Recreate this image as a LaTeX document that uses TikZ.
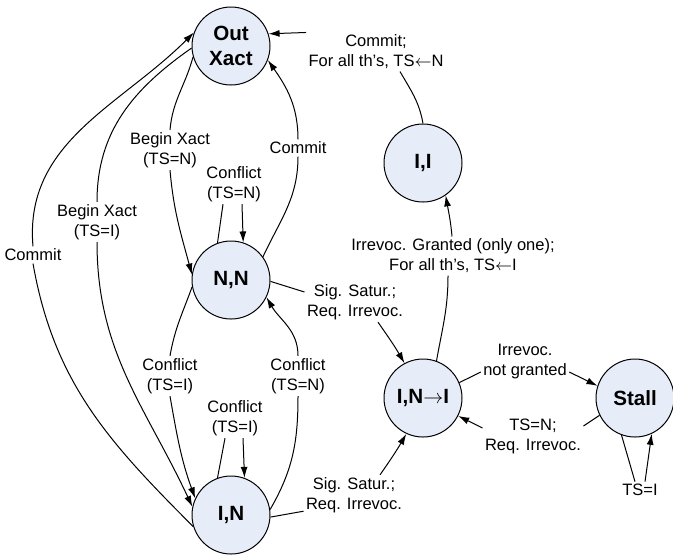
\documentclass[tikz,border=0pt]{standalone}
\usepackage{fontspec}
\setmainfont{Liberation Sans}
\usetikzlibrary{arrows.meta}
\definecolor{statefill}{RGB}{230,236,248}
\begin{document}
\begin{tikzpicture}[x=0.5pt,y=0.5pt,line width=0.5pt,>={Latex[length=5.5pt,width=3.5pt]},
	state/.style={circle,draw,fill=statefill,minimum size=39pt,inner sep=0pt,align=center,font=\fontsize{10.3}{12.5}\selectfont\bfseries},
	lbl/.style={align=center,inner sep=1pt,font=\fontsize{8.25}{10}\selectfont}]
		\useasboundingbox (0,0) rectangle (673,-559);
		\node[state] (OX) at (231,-46) {Out\\Xact};
		\node[state] (NN) at (231,-280) {N,N};
		\node[state] (IN) at (231,-515) {I,N};
		\node[state] (II) at (423,-163) {I,I};
		\node[state] (INI) at (423,-398) {I,N$\rightarrow$I};
		\node[state] (ST) at (635,-398) {Stall};
		\node[lbl] (cCommitII) at (376,-52) {Commit;\\For all th’s, TS$\leftarrow$N};
		\node[lbl] (cGranted) at (453,-256) {Irrevoc. Granted (only one);\\For all th’s, TS$\leftarrow$I};
		\node[lbl] (cBeginN) at (170,-150) {Begin Xact\\(TS=N)};
		\node[lbl] (cCommitNN) at (298,-148) {Commit};
		\node[lbl] (cBeginI) at (97,-222) {Begin Xact\\(TS=I)};
		\node[lbl] (cCommitOX) at (33,-255) {Commit};
		\node[lbl] (cConfNN) at (234,-184) {Conflict\\(TS=N)};
		\node[lbl] (cConfI) at (170,-376) {Conflict\\(TS=I)};
		\node[lbl] (cConfN) at (298,-376) {Conflict\\(TS=N)};
		\node[lbl] (cConfIN) at (235,-418) {Conflict\\(TS=I)};
		\node[lbl] (cSigNN) at (355,-302) {Sig. Satur.;\\Req. Irrevoc.};
		\node[lbl] (cSigIN) at (354,-495) {Sig. Satur.;\\Req. Irrevoc.};
		\node[lbl] (cNotGr) at (525,-362) {Irrevoc.\\not granted};
		\node[lbl] (cTSN) at (533,-436) {TS=N;\\Req. Irrevoc.};
		\node[lbl] (cTSI) at (640,-490) {TS=I};
		\draw (II.90) to[out=100,in=-60] ([xshift=12pt]cCommitII.south);
		\draw[->] (cCommitII.north west) -- (OX.18);
		\draw (INI.70) to[out=80,in=-90] ([xshift=-2.5pt]cGranted.south);
		\draw[->] ([xshift=-0.5pt]cGranted.north) to[out=95,in=-80] (II.-55);
		\draw (OX.196) to[out=255,in=85] (cBeginN.north);
		\draw[->] (cBeginN.south) to[out=-85,in=105] (NN.172);
		\draw (NN.36) to[out=65,in=-90] (cCommitNN.south);
		\draw[->] (cCommitNN.north) to[out=90,in=-55] (OX.-21);
		\draw (OX.183) to[out=215,in=90] (cBeginI.north);
		\draw[->] (cBeginI.south) to[out=-90,in=115] (IN.168);
		\draw (IN.197) to[out=135,in=-80] (cCommitOX.south);
		\draw[->] (cCommitOX.north) to[out=95,in=225] (OX.160);
		\draw (NN.110) -- ([xshift=-5.5pt]cConfNN.south);
		\draw[->] ([xshift=4pt]cConfNN.south) -- (NN.72);
		\draw (NN.190) to[out=250,in=80] (cConfI.north);
		\draw[->] (cConfI.south) to[out=-80,in=110] (IN.155);
		\draw (IN.8) to[out=60,in=-90] (cConfN.south);
		\draw[->] (cConfN.north) to[out=90,in=-60] (NN.-26);
		\draw (IN.110) -- ([xshift=-5pt]cConfIN.south);
		\draw[->] ([xshift=4pt]cConfIN.south) -- (IN.70);
		\draw (NN.-2) -- ([yshift=5pt]cSigNN.west);
		\draw[->] ([xshift=11.5pt]cSigNN.south) to[out=-55,in=120] (INI.118);
		\draw (IN.-3) -- ([yshift=2pt]cSigIN.south west);
		\draw[->] ([xshift=13pt]cSigIN.north) to[out=55,in=-120] (INI.-115);
		\draw (INI.23) -- ([yshift=-5pt]cNotGr.west);
		\draw[->] ([yshift=-5pt]cNotGr.east) -- (ST.162);
		\draw (ST.206) -- ([yshift=5pt]cTSN.east);
		\draw[->] ([yshift=4pt]cTSN.west) -- (INI.-27);
		\draw (ST.-110) -- ([xshift=-2.5pt]cTSI.north);
		\draw[->] ([xshift=2.5pt]cTSI.north) -- (ST.-65);
	\end{tikzpicture}
\end{document}
